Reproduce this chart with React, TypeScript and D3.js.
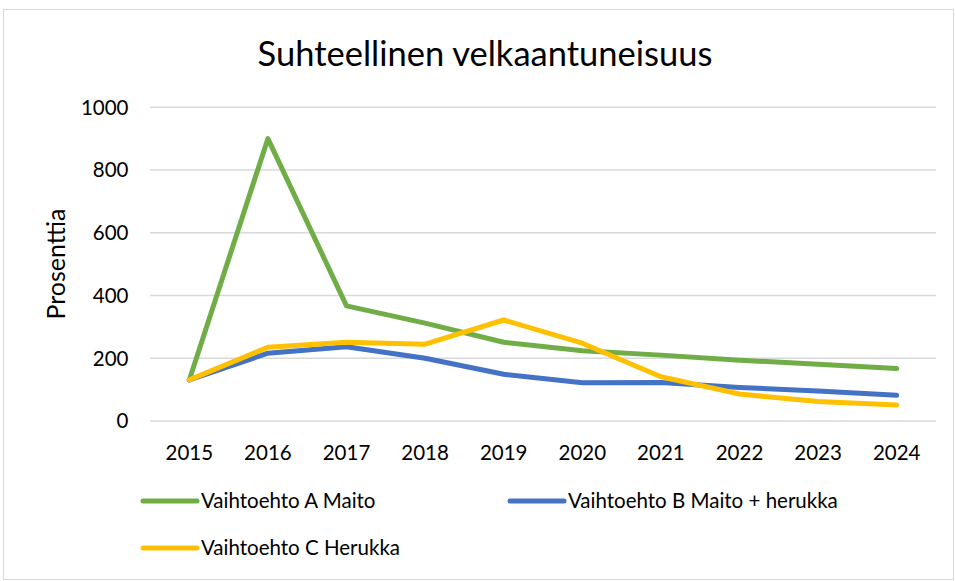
import React from "react";
import * as d3 from "d3";

const years = ["2015", "2016", "2017", "2018", "2019", "2020", "2021", "2022", "2023", "2024"];
const seriesA = [131, 900, 367, 312, 251, 224, 210, 194, 181, 167];
const seriesB = [131, 216, 237, 200, 149, 122, 123, 107, 96, 82];
const seriesC = [131, 235, 251, 245, 322, 248, 141, 86, 62, 51];
const yTicks = [0, 200, 400, 600, 800, 1000];
const seriesNames = ["Vaihtoehto A Maito", "Vaihtoehto B Maito + herukka", "Vaihtoehto C Herukka"];
const colors = ["#70AD47", "#4472C4", "#FFC000"];

const W = 955;
const H = 581;
const FONT = "Lato, 'Open Sans', sans-serif";

export default function App() {
  const x = d3.scaleBand<string>().domain(years).range([150, 936]);
  const y = d3.scaleLinear().domain([0, 1000]).range([421, 107.3]);
  const line = d3
    .line<number>()
    .x((_, i) => (x(years[i]) as number) + x.bandwidth() / 2)
    .y((d) => y(d));
  const all = [seriesA, seriesB, seriesC];
  const legendPos = [
    { x: 143, y: 501 },
    { x: 510, y: 501 },
    { x: 143, y: 548 },
  ];
  return (
    <svg width={W} height={H} style={{ position: "absolute", left: 0, top: 0 }}>
      <rect x={3.5} y={9.5} width={950} height={570} fill="#fff" stroke="#d9d9d9" strokeWidth={1} />
      <text x={485} y={66} textAnchor="middle" fontFamily={FONT} fontSize={34.5} fill="#000">
        Suhteellinen velkaantuneisuus
      </text>
      {yTicks.map((t) => (
        <g key={t}>
          <line x1={150} x2={936} y1={y(t)} y2={y(t)} stroke="#d9d9d9" strokeWidth={1.5} />
          <text x={128.5} y={y(t)} dy="0.36em" textAnchor="end" fontFamily={FONT} fontSize={20.5} fill="#000">
            {t}
          </text>
        </g>
      ))}
      {years.map((yr) => (
        <text
          key={yr}
          x={(x(yr) as number) + x.bandwidth() / 2}
          y={460}
          textAnchor="middle"
          fontFamily={FONT}
          fontSize={20.5}
          fill="#000"
        >
          {yr}
        </text>
      ))}
      <text
        transform={`translate(65,264) rotate(-90)`}
        textAnchor="middle"
        fontFamily={FONT}
        fontSize={25}
        fill="#000"
      >
        Prosenttia
      </text>
      {all.map((s, i) => (
        <path
          key={i}
          d={line(s) as string}
          fill="none"
          stroke={colors[i]}
          strokeWidth={5}
          strokeLinejoin="round"
          strokeLinecap="round"
        />
      ))}
      {seriesNames.map((n, i) => (
        <g key={n}>
          <line
            x1={legendPos[i].x}
            x2={legendPos[i].x + 54}
            y1={legendPos[i].y}
            y2={legendPos[i].y}
            stroke={colors[i]}
            strokeWidth={5}
            strokeLinecap="round"
          />
          <text
            x={legendPos[i].x + 58}
            y={legendPos[i].y}
            dy="0.36em"
            fontFamily={FONT}
            fontSize={20.5}
            fill="#000"
          >
            {n}
          </text>
        </g>
      ))}
    </svg>
  );
}
